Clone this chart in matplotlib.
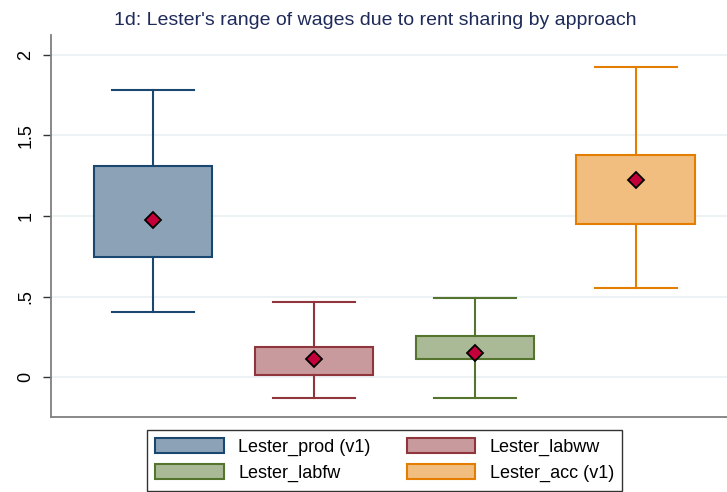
import matplotlib
matplotlib.use("Agg")
import matplotlib.pyplot as plt
from matplotlib.patches import Patch

plt.rcParams.update({"font.family": ["Liberation Sans", "DejaVu Sans"]})

# ---------- data ----------
series = ["Lester_prod (v1)", "Lester_labww", "Lester_labfw", "Lester_acc (v1)"]
whisk_lo = [0.405, -0.129, -0.130, 0.555]
q1 = [0.744, 0.014, 0.114, 0.948]
q3 = [1.310, 0.188, 0.255, 1.377]
whisk_hi = [1.783, 0.466, 0.491, 1.927]
means = [0.973, 0.112, 0.149, 1.224]
yticks = [0, 0.5, 1, 1.5, 2]
yticklabels = ["0", ".5", "1", "1.5", "2"]

edge_cols = ["#1A476F", "#90353B", "#55752F", "#E37E00"]
fill_cols = ["#8CA3B7", "#C89A9D", "#AABA97", "#F1BE7F"]

fig = plt.figure(figsize=(7.27, 4.92), dpi=100)
ax = fig.add_axes([0.0702, 0.153, 0.93, 0.776])

pos = range(1, len(series) + 1)
for i, p in enumerate(pos):
    st = [{"med": q1[i], "q1": q1[i], "q3": q3[i], "whislo": whisk_lo[i],
           "whishi": whisk_hi[i], "mean": means[i], "fliers": []}]
    ax.bxp(st, positions=[p], widths=0.735, capwidths=0.51, patch_artist=True,
           showmeans=True,
           boxprops=dict(facecolor=fill_cols[i], edgecolor=edge_cols[i], linewidth=1.5),
           whiskerprops=dict(color=edge_cols[i], linewidth=1.5),
           capprops=dict(color=edge_cols[i], linewidth=1.5),
           medianprops=dict(linewidth=0),
           meanprops=dict(marker="D", markerfacecolor="#C4003A", markeredgecolor="black",
                          markeredgewidth=1.3, markersize=8))

ax.set_xlim(1 - 0.636, 4 + 0.57)
ax.set_ylim(-0.246, 2.124)
ax.set_xticks([])
ax.set_yticks(yticks)
ax.set_yticklabels(yticklabels, rotation=90, va="center", fontsize=13)
ax.tick_params(axis="y", length=6, width=1, color="#333333", pad=6)
ax.grid(axis="y", color="#EAF0F2", linewidth=1.2)
ax.set_axisbelow(True)
for s in ["top", "right"]:
    ax.spines[s].set_visible(False)
ax.spines["left"].set_color("#7F7F7F")
ax.spines["bottom"].set_color("#7F7F7F")
ax.spines["left"].set_linewidth(1.3)
ax.spines["bottom"].set_linewidth(1.3)

fig.text(0.516, 0.959, "1d: Lester's range of wages due to rent sharing by approach",
         fontsize=14, color="#1E2A5A", ha="center", va="center")

# legend is filled row by row in the reference, matplotlib fills by column
order = [0, 2, 1, 3]
handles = [Patch(facecolor=fill_cols[i], edgecolor=edge_cols[i], linewidth=1.5) for i in order]
labels = [series[i] for i in order]
leg = fig.legend(handles, labels, loc="lower center", bbox_to_anchor=(0.529, 0.003),
                 borderaxespad=0, ncol=2, fontsize=13, frameon=True, fancybox=False,
                 edgecolor="black", handlelength=3.8, handleheight=0.9, columnspacing=2.0,
                 handletextpad=0.8, labelspacing=0.45, borderpad=0.45)
leg.get_frame().set_linewidth(1.0)

fig.savefig("out.png", dpi=100)
